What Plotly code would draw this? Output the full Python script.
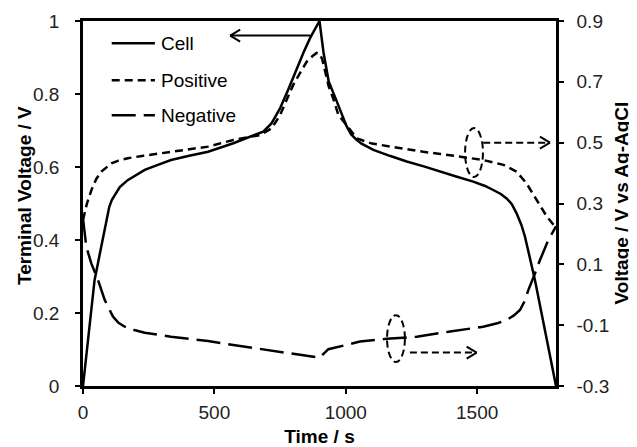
import plotly.graph_objects as go

# ---------------- data ----------------
cell_t = [0, 20, 44, 62, 76, 90, 100, 110, 120, 140, 170, 200, 235, 285, 335, 400, 476, 572, 686, 718,
          750, 780, 813, 840, 864, 885, 900, 915, 935, 960, 980, 1003, 1020, 1040, 1060, 1105, 1170,
          1232, 1300, 1359, 1420, 1485, 1530, 1561, 1590, 1612, 1632, 1650, 1668, 1682, 1695, 1707, 1720, 1760, 1800]
cell_v = [0, 0.13, 0.29, 0.355, 0.409, 0.46, 0.491, 0.51, 0.523, 0.545, 0.564, 0.578, 0.592, 0.606, 0.619, 0.630, 0.642,
          0.665, 0.697, 0.720, 0.761, 0.810, 0.870, 0.915, 0.953, 0.980, 1.0, 0.915, 0.834, 0.79, 0.755, 0.712,
          0.690, 0.675, 0.664, 0.647, 0.630, 0.615, 0.601, 0.587, 0.574, 0.560, 0.548, 0.537, 0.526, 0.514,
          0.498, 0.473, 0.442, 0.409, 0.370, 0.327, 0.29, 0.145, 0]

pos_t = [0, 15, 32, 50, 70, 90, 108, 135, 171, 230, 298, 380, 476, 572, 674, 718, 750, 800, 851, 875,
         889, 900, 910, 920, 935, 952, 972, 1003, 1042, 1100, 1168, 1230, 1295, 1360, 1422, 1523, 1600,
         1650, 1688, 1726, 1765, 1800]
pos_v = [0.246, 0.30, 0.344, 0.38, 0.405, 0.42, 0.432, 0.441, 0.449, 0.457, 0.465, 0.475, 0.487, 0.509, 0.525,
         0.547, 0.591, 0.690, 0.766, 0.786, 0.795, 0.793, 0.775, 0.740, 0.685, 0.646, 0.591, 0.558, 0.514,
         0.497, 0.487, 0.478, 0.470, 0.463, 0.456, 0.443, 0.427, 0.405, 0.366, 0.312, 0.257, 0.22]

neg_t = [0, 5, 12.6, 31.6, 57, 82.6, 100, 114, 135, 159, 195, 235, 335, 476, 572, 699, 826, 900, 934,
         1000, 1054, 1156, 1270, 1397, 1523, 1580, 1612, 1640, 1663, 1680, 1695, 1720, 1739, 1771, 1800]
neg_v = [0.25, 0.22, 0.158, 0.103, 0.0485, -0.017, -0.050, -0.072, -0.092, -0.105, -0.116, -0.125, -0.138,
         -0.152, -0.165, -0.182, -0.198, -0.207, -0.179, -0.165, -0.154, -0.145, -0.138, -0.121, -0.105,
         -0.093, -0.083, -0.068, -0.050, -0.022, 0.016, 0.070, 0.114, 0.18, 0.225]

x_ticks = [0, 500, 1000, 1500]
y_ticks = [0, 0.2, 0.4, 0.6, 0.8, 1.0]
y_tick_labels = ["0", "0.2", "0.4", "0.6", "0.8", "1"]
y2_ticks = [-0.3, -0.1, 0.1, 0.3, 0.5, 0.7, 0.9]
y2_tick_labels = ["-0.3", "-0.1", "0.1", "0.3", "0.5", "0.7", "0.9"]

series_names = ["Cell", "Positive", "Negative"]
x_title = "Time / s"
y_title = "Terminal Voltage / V"
y2_title = "Voltage / V vs Ag-AgCl"

# annotation geometry (data units)
cell_arrow = dict(x_tail=865, x_tip=560, y=0.96)                 # left axis
pos_arrow = dict(x_tail=1523, x_tip=1777, y=0.50)                # right axis
neg_arrow = dict(x_tail=1244, x_tip=1498, y=-0.19)               # right axis
pos_ellipse = dict(x0=1454, x1=1522, y0=0.387, y1=0.548)         # right axis
neg_ellipse = dict(x0=1157, x1=1225, y0=-0.221, y1=-0.067)       # right axis

FONT = "Liberation Sans, Arial, sans-serif"
BLACK = "#000000"
LW = 2.5
DASH_POS = "8px,5px"
DASH_NEG = "24px,8px"

fig = go.Figure()
fig.add_trace(go.Scatter(x=cell_t, y=cell_v, mode="lines", name=series_names[0],
                         line=dict(color=BLACK, width=LW)))
fig.add_trace(go.Scatter(x=pos_t, y=pos_v, mode="lines", name=series_names[1], yaxis="y2",
                         line=dict(color=BLACK, width=LW, dash=DASH_POS)))
fig.add_trace(go.Scatter(x=neg_t, y=neg_v, mode="lines", name=series_names[2], yaxis="y2",
                         line=dict(color=BLACK, width=LW, dash=DASH_NEG)))

shapes = []


def arrow(spec, yref, dash):
    shapes.append(dict(type="line", xref="x", yref=yref, x0=spec["x_tail"], x1=spec["x_tip"],
                       y0=spec["y"], y1=spec["y"], line=dict(color=BLACK, width=2, dash=dash)))
    back = 10 if spec["x_tip"] < spec["x_tail"] else -10
    for dy in (6, -6):
        shapes.append(dict(type="line", xref="x", yref=yref, xsizemode="pixel", ysizemode="pixel",
                           xanchor=spec["x_tip"], yanchor=spec["y"], x0=0, x1=back, y0=0, y1=dy,
                           line=dict(color=BLACK, width=2)))


arrow(cell_arrow, "y", "solid")
arrow(pos_arrow, "y2", "7px,4px")
arrow(neg_arrow, "y2", "7px,4px")
for e in (pos_ellipse, neg_ellipse):
    shapes.append(dict(type="circle", xref="x", yref="y2", x0=e["x0"], x1=e["x1"], y0=e["y0"], y1=e["y1"],
                       line=dict(color=BLACK, width=2, dash="7px,4px")))

# custom legend (line samples + text)
legend_y = [0.939, 0.838, 0.742]
legend_dash = ["solid", DASH_POS, DASH_NEG]
annotations = []
for name, yy, d in zip(series_names, legend_y, legend_dash):
    shapes.append(dict(type="line", xref="paper", yref="paper", x0=0.0607, x1=0.152, y0=yy, y1=yy,
                       line=dict(color=BLACK, width=LW, dash=d)))
    annotations.append(dict(text=name, xref="paper", yref="paper", x=0.160, y=yy, xanchor="left",
                            yanchor="middle", showarrow=False, font=dict(family=FONT, size=19, color=BLACK)))

title_font = dict(family=FONT, size=19, color=BLACK, weight="bold")
# y-axis titles as rotated annotations for exact placement
annotations.append(dict(text=y_title, xref="paper", yref="paper", x=-0.1247, y=0.5205, textangle=-90,
                        xanchor="center", yanchor="middle", showarrow=False, font=title_font))
annotations.append(dict(text=y2_title, xref="paper", yref="paper", x=1.138, y=0.501, textangle=-90,
                        xanchor="center", yanchor="middle", showarrow=False, font=title_font))

axis_common = dict(showline=True, linecolor=BLACK, linewidth=2.5, ticks="outside", ticklen=5, tickwidth=2,
                   tickcolor=BLACK, showgrid=False, zeroline=False, automargin=False,
                   tickfont=dict(family=FONT, size=19, color="#222222"))

# page body has an 8px margin: shrink figure so the plot area lands where the reference has it
fig.update_layout(
    width=629, height=439,
    margin=dict(l=75, r=81, t=13, b=61),
    paper_bgcolor="white", plot_bgcolor="white",
    showlegend=False,
    font=dict(family=FONT, size=19, color=BLACK),
    xaxis=dict(range=[0, 1800], tickvals=x_ticks, mirror=True, ticklabelstandoff=2,
               title=dict(text=x_title, font=title_font, standoff=11), **axis_common),
    yaxis=dict(range=[0, 1], tickvals=y_ticks, ticktext=y_tick_labels, ticklabelstandoff=12,
               **axis_common),
    yaxis2=dict(range=[-0.3, 0.9], tickvals=y2_ticks, ticktext=y2_tick_labels, overlaying="y", side="right",
                ticklabelstandoff=9, **axis_common),
    shapes=shapes,
    annotations=annotations,
)

fig.write_html("out.html")
